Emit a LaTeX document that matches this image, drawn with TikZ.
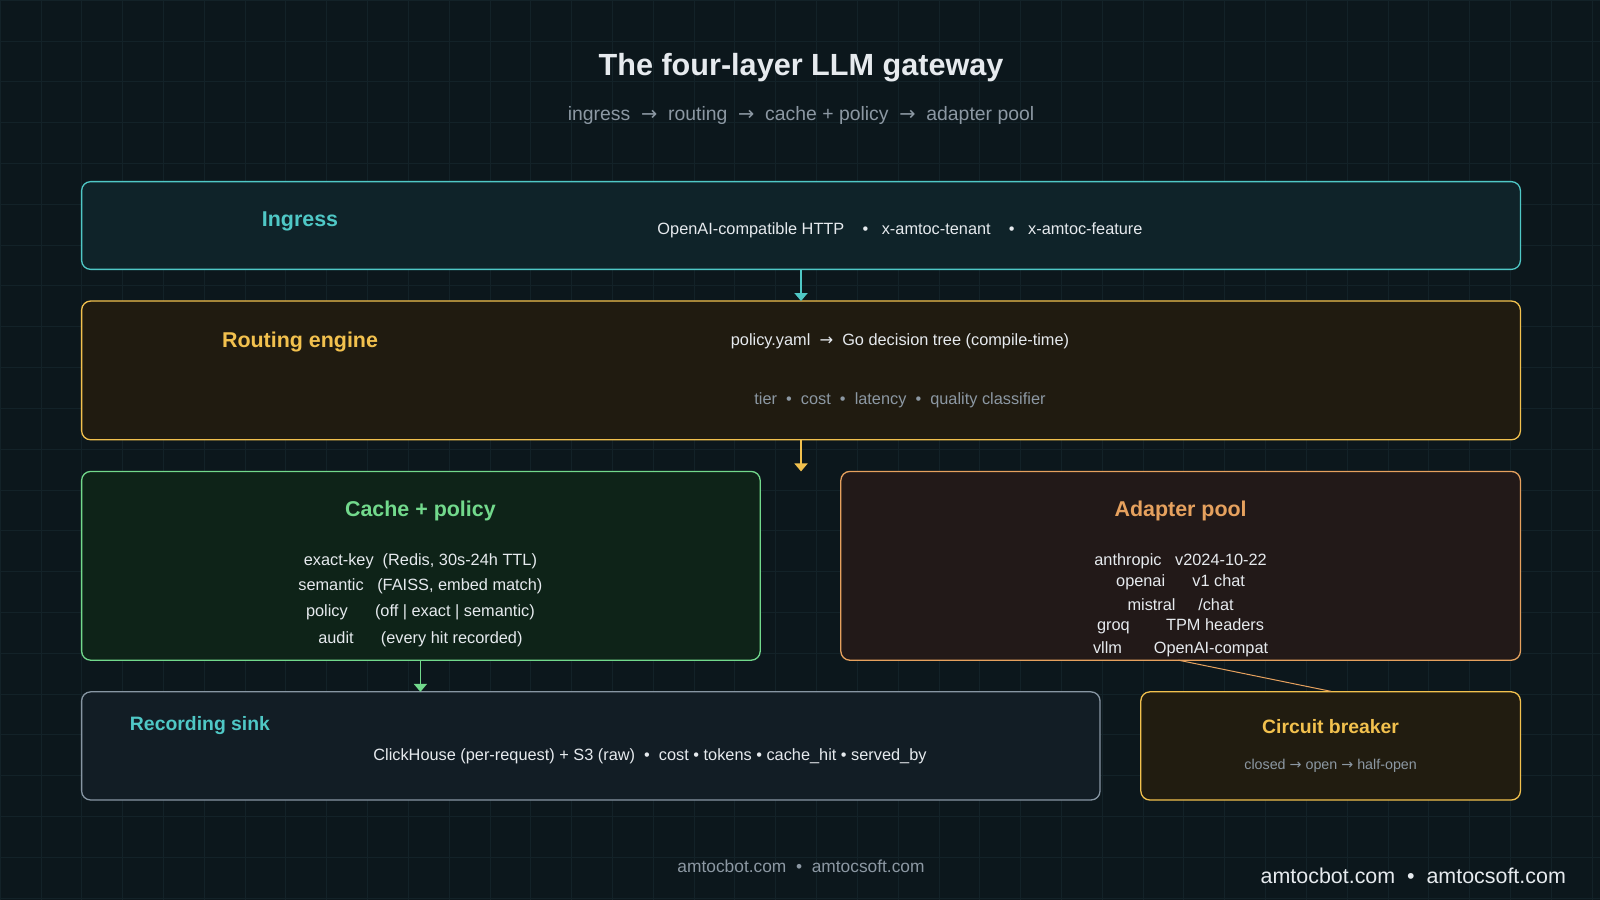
\documentclass[tikz,border=0pt]{standalone}
\usepackage{fontspec}
\setmainfont{Liberation Sans}
\newfontfamily\symf{DejaVu Sans}
\usetikzlibrary{arrows.meta}
\definecolor{bg}{HTML}{0C171C}
\definecolor{gridc}{HTML}{132228}
\definecolor{teal}{HTML}{4FC8C6}
\definecolor{gold}{HTML}{F2C14E}
\definecolor{grn}{HTML}{72D98C}
\definecolor{orng}{HTML}{E6A15E}
\definecolor{slate}{HTML}{8796A3}
\definecolor{txt}{HTML}{E6EAEE}
\definecolor{mut}{HTML}{8C98A3}
\definecolor{fing}{HTML}{0F2329}
\definecolor{frt}{HTML}{201B10}
\definecolor{fca}{HTML}{0E2318}
\definecolor{fad}{HTML}{221918}
\definecolor{frec}{HTML}{121D25}
\definecolor{fcb}{HTML}{211C10}
\newcommand{\ar}{{\symf →}}
\tikzset{
 box/.style={draw=#1, line width=1.3pt, rounded corners=9pt, inner sep=0},
 ttl/.style={font=\bfseries\fontsize{21}{24}\selectfont},
 bod/.style={font=\fontsize{16}{19}\selectfont, text=txt},
 sub/.style={font=\fontsize{16}{19}\selectfont, text=mut},
 con/.style={line width=1.8pt, -{Triangle[width=13pt,length=8pt]}},
}
\begin{document}
\begin{tikzpicture}[x=1pt,y=-1pt,scale=1.0204,every node/.append style={transform shape}]
\fill[bg] (0,0) rectangle (1568,882);
\useasboundingbox (0,0) rectangle (1568,882);
\foreach \i in {0,40,...,1560} \draw[gridc,line width=0.5pt] (\i,0) -- (\i,882);
\foreach \i in {0,40,...,880} \draw[gridc,line width=0.5pt] (0,\i) -- (1568,\i);

\node[font=\bfseries\fontsize{30}{34}\selectfont, text=txt] (title) at (785,66) {The four-layer LLM gateway};
\node[font=\fontsize{19}{22}\selectfont, text=mut] (subt) at (785,113) {ingress \ \ar\ \ routing \ \ar\ \ cache + policy \ \ar\ \ adapter pool};

\node[box=teal, fill=fing, minimum width=1410, minimum height=86] (ing) at (785,221) {};
\node[ttl, text=teal] (ingt) at (294,217) {Ingress};
\node[bod] (ingb) at (882,226) {OpenAI-compatible HTTP \ \ \ •\ \ \  x-amtoc-tenant \ \ \ •\ \ \  x-amtoc-feature};

\node[box=gold, fill=frt, minimum width=1410, minimum height=136] (rt) at (785,363) {};
\node[ttl, text=gold] (rtt) at (294,335) {Routing engine};
\node[bod] (rtb) at (882,334) {policy.yaml \ \ar\ \ Go decision tree (compile-time)};
\node[sub] (rts) at (882,392) {tier \ • \ cost \ • \ latency \ • \ quality classifier};

\node[box=grn, fill=fca, minimum width=665, minimum height=185] (ca) at (412.5,554.5) {};
\node[ttl, text=grn] (cat) at (412,501) {Cache + policy};
\node[bod] (c1) at (412,550) {exact-key\ \ (Redis, 30s-24h TTL)};
\node[bod] (c2) at (412,575) {semantic\ \ \ (FAISS, embed match)};
\node[bod] (c3) at (412,600) {policy\ \ \ \ \ \ (off | exact | semantic)};
\node[bod] (c4) at (412,626) {audit\ \ \ \ \ \ (every hit recorded)};

\node[box=orng, fill=fad, minimum width=666, minimum height=185] (ad) at (1157,554.5) {};
\node[ttl, text=orng] (adt) at (1157,501) {Adapter pool};
\node[bod] (a1) at (1157,550) {anthropic\ \ \ v2024-10-22};
\node[bod] (a2) at (1157,571) {openai\ \ \ \ \ \ v1 chat};
\node[bod] (a3) at (1157,593) {mistral\ \ \ \ \ /chat};
\node[bod] (a4) at (1157,614) {groq\ \ \ \ \ \ \ \ TPM headers};
\node[bod] (a5) at (1157,636) {vllm\ \ \ \ \ \ \ OpenAI-compat};

\node[box=slate, fill=frec, minimum width=998, minimum height=106] (rec) at (579,731) {};
\node[ttl, font=\bfseries\fontsize{19}{22}\selectfont, text=teal] (rect) at (196,711) {Recording sink};
\node[bod] (recb) at (637,741) {ClickHouse (per-request) + S3 (raw) \ • \ cost • tokens • cache\_hit • served\_by};

\node[box=gold, fill=fcb, minimum width=372, minimum height=106] (cb) at (1304,731) {};
\node[ttl, font=\bfseries\fontsize{19}{22}\selectfont, text=gold] (cbt) at (1304,712) {Circuit breaker};
\node[font=\fontsize{14}{17}\selectfont, text=mut] (cbs) at (1304,750) {closed \ar\ open \ar\ half-open};

\draw[con, teal] (785,264) -- (785,295);
\draw[con, gold] (785,431) -- (785,462);
\draw[con, grn] (412,647) -- (412,678);
\draw[orng, line width=1pt] (1155,647) -- (cb.north);

\node[font=\fontsize{17}{20}\selectfont, text=mut] (f1) at (785,849) {amtocbot.com \ • \ amtocsoft.com};
\node[font=\fontsize{21}{24}\selectfont, text=txt] (f2) at (1385,858) {amtocbot.com \ • \ amtocsoft.com};
\end{tikzpicture}
\end{document}
